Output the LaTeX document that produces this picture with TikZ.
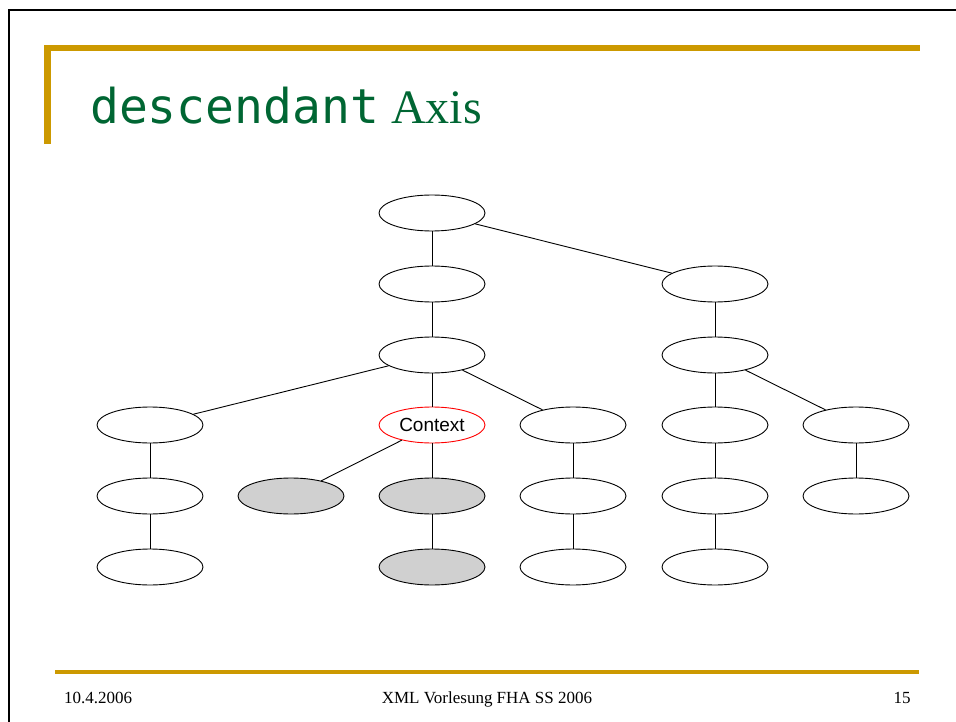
\documentclass[tikz,border=0pt]{standalone}
\usepackage{fontspec}
\setmainfont{Liberation Serif}
\newfontfamily\titlemono{DejaVu Sans Mono}
\newfontfamily\nodesans{Liberation Sans}
\usetikzlibrary{shapes.geometric}
\definecolor{slidegold}{RGB}{204,153,0}
\definecolor{slidegreen}{RGB}{0,102,51}
\definecolor{hitgrey}{RGB}{208,208,208}
\tikzset{
  treenode/.style={ellipse, draw=black, line width=0.9pt, fill=white,
    minimum width=106pt, minimum height=36pt, inner sep=0pt},
  hitnode/.style={treenode, fill=hitgrey},
  ctxnode/.style={treenode, draw=red, font=\nodesans\fontsize{19}{22}\selectfont},
  edge/.style={line width=0.9pt, black},
  goldbar/.style={slidegold, line width=6.5pt},
}
\begin{document}
\begin{tikzpicture}[x=1pt, y=-1pt]
\useasboundingbox (0,0) rectangle (956,722);
\fill[white] (0,0) rectangle (956,722);

% slide frame
\draw[line width=2.5pt, black] (9,722) -- (9,10) -- (956,10);

% title bars
\fill[slidegold] (44,45) rectangle (920,51);
\fill[slidegold] (44,45) rectangle (51,144);

% title
\node[anchor=base west, inner sep=0pt, text=slidegreen] (title) at (90,124)
  {\fontsize{48}{58}\selectfont{\titlemono descendant} Axis};

% tree nodes
\node[treenode] (r)   at (432,213) {};
\node[treenode] (a)   at (432,284) {};
\node[treenode] (b)   at (715,284) {};
\node[treenode] (a1)  at (432,355) {};
\node[treenode] (b1)  at (715,355) {};
\node[treenode] (c1)  at (150,425) {};
\node[ctxnode]  (ctx) at (432,425) {Context};
\node[treenode] (c3)  at (573,425) {};
\node[treenode] (c4)  at (715,425) {};
\node[treenode] (c5)  at (856,425) {};
\node[treenode] (d1)  at (150,496) {};
\node[hitnode]  (d2)  at (291,496) {};
\node[hitnode]  (d3)  at (432,496) {};
\node[treenode] (d4)  at (573,496) {};
\node[treenode] (d5)  at (715,496) {};
\node[treenode] (d6)  at (856,496) {};
\node[treenode] (e1)  at (150,567) {};
\node[hitnode]  (e3)  at (432,567) {};
\node[treenode] (e4)  at (573,567) {};
\node[treenode] (e5)  at (715,567) {};

% tree edges
\draw[edge] (r) -- (a);
\draw[edge] (r) -- (b);
\draw[edge] (a) -- (a1);
\draw[edge] (b) -- (b1);
\draw[edge] (a1) -- (c1);
\draw[edge] (a1) -- (ctx);
\draw[edge] (a1) -- (c3);
\draw[edge] (b1) -- (c4);
\draw[edge] (b1) -- (c5);
\draw[edge] (c1) -- (d1);
\draw[edge] (ctx) -- (d2);
\draw[edge] (ctx) -- (d3);
\draw[edge] (c3) -- (d4);
\draw[edge] (c4) -- (d5);
\draw[edge] (c5) -- (d6);
\draw[edge] (d1) -- (e1);
\draw[edge] (d3) -- (e3);
\draw[edge] (d4) -- (e4);
\draw[edge] (d5) -- (e5);

% footer
\draw[slidegold, line width=3.5pt] (55,672) -- (919,672);
\node[anchor=base west, inner sep=0pt, font=\fontsize{17}{20}\selectfont] (date) at (64,703) {10.4.2006};
\node[anchor=base, inner sep=0pt, font=\fontsize{17}{20}\selectfont] (course) at (487,703) {XML Vorlesung FHA SS 2006};
\node[anchor=base, inner sep=0pt, font=\fontsize{17}{20}\selectfont] (page) at (902,703) {15};
\end{tikzpicture}
\end{document}
